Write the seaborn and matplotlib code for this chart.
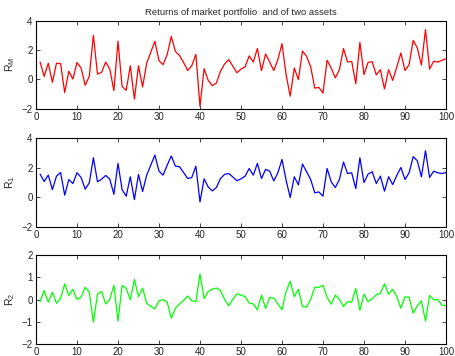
import numpy as np
import pandas as pd
import matplotlib
matplotlib.use("Agg")
import matplotlib.pyplot as plt
import seaborn as sns

# Period index
periods = list(range(1, 101))

# Market portfolio returns
r_market = [1.18, 0.2, 1.1, -0.2, 1.1, 1.07, -0.9, 0.55, 0.02, 1.15,
            0.77, -0.4, 0.2, 3.0, 0.36, 0.48, 1.18, 0.7, -0.77, 2.6,
            -0.48, -0.75, 0.93, -1.35, 0.93, -0.52, 1.1, 1.85, 2.6, 1.27,
            1.0, 1.7, 2.93, 1.9, 1.63, 1.15, 0.6, 0.93, 1.7, -1.85,
            0.73, -0.07, -0.43, -0.25, 0.55, 1.05, 1.35, 0.9, 0.45, 0.7,
            0.85, 1.6, 1.18, 2.1, 0.6, 1.73, 1.18, 0.6, 1.35, 2.43,
            0.32, -1.15, 0.77, -0.02, 1.93, 1.57, 0.85, -0.6, -0.55, -0.93,
            1.3, 0.77, 0.1, 0.66, 2.1, 1.18, 1.23, -0.3, 2.52, 0.32,
            1.16, 1.2, 0.3, 0.66, -0.66, 0.66, -0.07, 0.84, 1.8, 0.6,
            1.0, 2.66, 2.14, 0.98, 3.39, 0.7, 1.23, 1.18, 1.3, 1.4]

# Asset 1 returns
r_asset1 = [1.57, 1.07, 1.5, 0.52, 1.43, 1.68, 0.14, 1.2, 0.93, 1.66,
            1.34, 0.55, 0.98, 2.68, 1.05, 1.23, 1.48, 1.23, 0.2, 2.3,
            0.52, 0.07, 1.39, -0.16, 1.55, 0.39, 1.5, 2.18, 2.86, 1.77,
            1.5, 2.18, 2.8, 2.11, 2.07, 1.68, 1.27, 1.34, 2.11, -0.32,
            1.25, 0.7, 0.43, 0.66, 1.27, 1.55, 1.61, 1.38, 1.12, 1.25,
            1.43, 1.95, 1.5, 2.3, 1.27, 1.89, 1.77, 1.11, 1.66, 2.57,
            1.16, -0.02, 1.39, 0.84, 2.25, 1.73, 1.2, 0.3, 0.36, 0.07,
            1.95, 1.05, 0.66, 1.2, 2.39, 1.61, 1.66, 0.59, 2.68, 1.0,
            1.57, 1.73, 0.93, 1.43, 0.41, 1.39, 0.86, 1.48, 2.02, 1.2,
            1.66, 2.75, 2.48, 1.39, 3.16, 1.34, 1.77, 1.66, 1.61, 1.68]

# Asset 2 returns
r_asset2 = [-0.1, 0.4, -0.12, 0.33, -0.17, 0.06, 0.7, 0.18, 0.46, 0.01,
            0.1, 0.55, 0.33, -1.02, 0.24, 0.36, -0.2, 0.01, 0.64, -0.97,
            0.63, 0.5, -0.01, 0.9, 0.13, 0.51, -0.17, -0.31, -0.42, -0.06,
            -0.01, -0.12, -0.84, -0.39, -0.2, -0.04, 0.16, -0.06, -0.1, 1.15,
            0.04, 0.36, 0.46, 0.52, 0.39, 0.01, -0.28, 0.01, 0.25, 0.2,
            0.13, -0.16, -0.2, -0.46, 0.2, -0.4, 0.09, 0.06, -0.2, -0.46,
            0.36, 0.82, 0.13, 0.46, -0.31, -0.34, 0.01, 0.55, 0.55, 0.64,
            0.1, -0.21, 0.2, 0.01, -0.31, -0.1, -0.12, 0.5, -0.49, 0.24,
            -0.1, 0.04, 0.21, 0.28, 0.7, 0.24, 0.46, 0.13, -0.39, 0.12,
            0.1, -0.61, -0.28, -0.06, -0.97, 0.18, -0.01, -0.01, -0.25, -0.28]

series_labels = [r"R$_\mathrm{M}$", r"R$_\mathrm{1}$", r"R$_\mathrm{2}$"]
series_colors = ["#ff0000", "#0000ff", "#00ff00"]
y_ticks = [[-2, 0, 2, 4], [-2, 0, 2, 4], [-2, -1, 0, 1, 2]]
x_ticks = list(range(0, 101, 10))
title = "Returns of market portfolio  and of two assets"

sns.set_style("ticks")
plt.rcParams["font.family"] = ["Liberation Sans", "DejaVu Sans"]
plt.rcParams["mathtext.fontset"] = "custom"
plt.rcParams["mathtext.rm"] = "Liberation Sans"

fig = plt.figure(figsize=(4.55, 3.56), dpi=100)
boxes = [
    [0.0791, 0.6947, 0.9011, 0.2472],
    [0.0791, 0.3632, 0.9011, 0.2483],
    [0.0791, 0.0337, 0.9011, 0.2500],
]

data = [r_market, r_asset1, r_asset2]
for k, (box, vals) in enumerate(zip(boxes, data)):
    ax = fig.add_axes(box)
    df = pd.DataFrame({"t": periods, "r": vals})
    sns.lineplot(data=df, x="t", y="r", ax=ax, color=series_colors[k],
                 linewidth=0.9)
    ax.set_xlim(0, 100)
    ax.set_ylim(y_ticks[k][0], y_ticks[k][-1])
    ax.set_xticks(x_ticks)
    ax.set_yticks(y_ticks[k])
    ax.set_xlabel("")
    ax.set_ylabel(series_labels[k], fontsize=7.5)
    ax.yaxis.set_label_coords(-0.047, 0.5)
    ax.tick_params(direction="in", length=3, width=0.6, labelsize=7,
                   top=True, right=True, pad=2.5)
    for sp in ax.spines.values():
        sp.set_visible(True)
        sp.set_linewidth(0.8)
        sp.set_color("black")
    if k == 0:
        ax.set_title(title, fontsize=6.8, pad=4)

fig.savefig("out.png", dpi=100)
